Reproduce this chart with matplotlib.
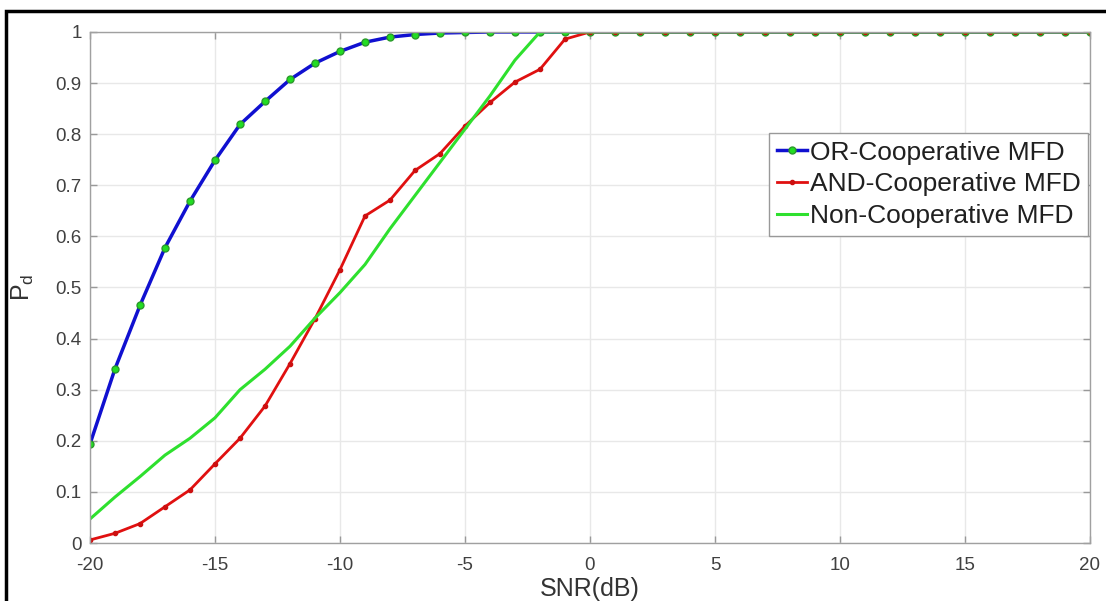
import numpy as np
import matplotlib
matplotlib.use('Agg')
import matplotlib.pyplot as plt
from matplotlib.patches import Rectangle

plt.rcParams['font.family'] = ['Liberation Sans', 'DejaVu Sans']
plt.rcParams['axes.unicode_minus'] = False

snr = np.arange(-20, 21)

pd_or = [0.194, 0.341, 0.465, 0.578, 0.669, 0.749, 0.819, 0.864, 0.907, 0.939,
         0.962, 0.980, 0.990, 0.995, 0.998, 0.999, 1.0, 1.0, 1.0, 1.0,
         1.0, 1.0, 1.0, 1.0, 1.0, 1.0, 1.0, 1.0, 1.0, 1.0,
         1.0, 1.0, 1.0, 1.0, 1.0, 1.0, 1.0, 1.0, 1.0, 1.0, 1.0]

pd_and = [0.006, 0.019, 0.038, 0.071, 0.104, 0.155, 0.205, 0.268, 0.351, 0.439,
          0.535, 0.640, 0.671, 0.729, 0.762, 0.816, 0.862, 0.902, 0.927, 0.986,
          1.0, 1.0, 1.0, 1.0, 1.0, 1.0, 1.0, 1.0, 1.0, 1.0,
          1.0, 1.0, 1.0, 1.0, 1.0, 1.0, 1.0, 1.0, 1.0, 1.0, 1.0]

pd_non = [0.047, 0.090, 0.130, 0.172, 0.205, 0.245, 0.300, 0.340, 0.385, 0.440,
          0.490, 0.545, 0.615, 0.680, 0.745, 0.810, 0.875, 0.945, 1.0, 1.0,
          1.0, 1.0, 1.0, 1.0, 1.0, 1.0, 1.0, 1.0, 1.0, 1.0,
          1.0, 1.0, 1.0, 1.0, 1.0, 1.0, 1.0, 1.0, 1.0, 1.0, 1.0]

labels = ['OR-Cooperative MFD', 'AND-Cooperative MFD', 'Non-Cooperative MFD']

fig = plt.figure(figsize=(11.06, 6.01), dpi=100)
ax = fig.add_axes([0.0814, 0.0965, 0.9041, 0.8503])

ax.plot(snr, pd_or, '-o', color='#1010d0', lw=2.5, ms=5,
        mfc='#22dd22', mec='#2a9a2a', label=labels[0])
ax.plot(snr, pd_and, '-o', color='#e01010', lw=2, ms=3,
        mfc='#cc1010', mec='#cc1010', label=labels[1])
ax.plot(snr, pd_non, '-', color='#2ee02e', lw=2.2, label=labels[2])

ax.set_xlim(-20, 20)
ax.set_ylim(0, 1)
ax.set_xticks(np.arange(-20, 21, 5))
ax.set_yticks(np.arange(0, 1.01, 0.1))
ax.set_yticklabels(['0', '0.1', '0.2', '0.3', '0.4', '0.5', '0.6', '0.7', '0.8', '0.9', '1'])
ax.grid(True, color='#e8e8e8', lw=1)
ax.set_axisbelow(True)
ax.tick_params(direction='in', top=True, right=True, length=5, width=1,
               color='#999999', labelsize=13.5, labelcolor='#404040')
ax.tick_params(axis='x', pad=10)
ax.tick_params(axis='y', pad=6)
for s in ax.spines.values():
    s.set_color('#a0a0a0')
    s.set_linewidth(1)

ax.set_xlabel('SNR(dB)', fontsize=18, color='#333333')
ax.xaxis.set_label_coords(0.5, -0.066)
ax.set_ylabel(r'$\mathregular{P_d}$', fontsize=18, color='#333333')
ax.yaxis.set_label_coords(-0.054, 0.5)

leg = ax.legend(loc='upper right', bbox_to_anchor=(0.998, 0.802), borderaxespad=0,
                fontsize=19, handlelength=1.15, handletextpad=0.1, borderpad=0.28,
                labelspacing=0.3, fancybox=False, framealpha=1, edgecolor='#999999')
leg.get_frame().set_linewidth(1)
for t in leg.get_texts():
    t.set_color('#202020')

fig.add_artist(Rectangle((6 / 1106, -0.1), 1.2, 0.1 + (601 - 11) / 601,
                         transform=fig.transFigure, fill=False, lw=2.5,
                         ec='black', clip_on=False))

fig.savefig('out.png', dpi=100)
